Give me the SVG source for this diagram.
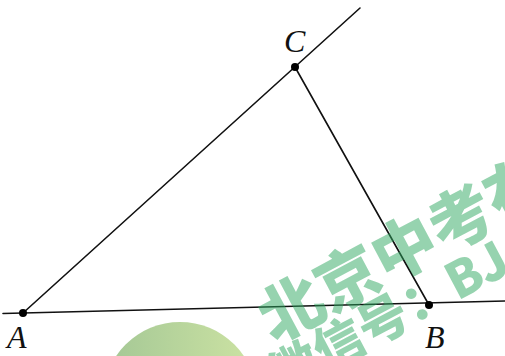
<svg xmlns="http://www.w3.org/2000/svg" width="505" height="356" viewBox="0 0 505 356">
<defs>
<linearGradient id="wm" x1="0" y1="0" x2="1" y2="0">
<stop offset="0" stop-color="#a3c795"/>
<stop offset="1" stop-color="#cde3a3"/>
</linearGradient>
</defs>
<style>
.ln{stroke:#111;stroke-width:1.6;fill:none;stroke-linecap:round}
.pt{fill:#000}
.lbl{font-family:"Liberation Serif","Times New Roman",serif;font-style:italic;font-size:32px;fill:#111}
.wm{font-family:"Noto Sans CJK SC","Liberation Sans",sans-serif;font-weight:900;fill:#2ea860;fill-opacity:0.5}
</style>
<rect width="505" height="356" fill="#fff"/>
<circle cx="180" cy="399" r="77" fill="url(#wm)"/>
<g id="connectors">
<line class="ln" x1="3" y1="313.5" x2="505" y2="301"/>
<line class="ln" x1="23" y1="313" x2="360" y2="8"/>
<line class="ln" x1="295" y1="67" x2="429" y2="305"/>
</g>
<g id="A"><circle class="pt" cx="23" cy="313" r="4"/><text class="lbl" x="7" y="348">A</text></g>
<g id="B"><circle class="pt" cx="429" cy="305" r="4"/><text class="lbl" x="425" y="348">B</text></g>
<g id="C"><circle class="pt" cx="295" cy="67" r="4"/><text class="lbl" x="284" y="52">C</text></g>
<g id="watermark">
<text class="wm" font-size="64" transform="translate(274,344) rotate(-28)">北京中考在</text>
<text class="wm" font-size="50" transform="translate(281,395) rotate(-28)">微信号：BJ</text>
</g>
</svg>
